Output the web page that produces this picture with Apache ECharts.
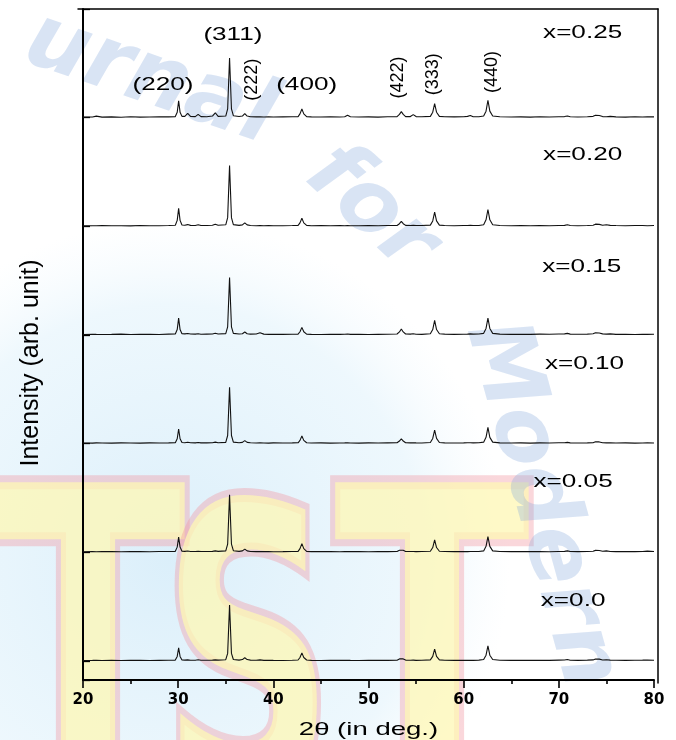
<!DOCTYPE html>
<html><head><meta charset="utf-8">
<script src="https://cdn.jsdelivr.net/npm/echarts@6/dist/echarts.min.js"></script>
<style>html,body{margin:0;padding:0;background:#fff}#c{width:676px;height:740px}</style>
</head><body><div id="c"></div>
<script>
// 2theta sampling points (deg) shared by all patterns
const twoTheta = [
 20.0,21.0,21.4,22.0,23.0,24.0,25.0,26.0,27.0,28.0,29.0,
 29.7,29.9,30.05,30.2,30.4,
 30.7,31.0,31.3,
 31.8,32.1,32.4,
 33.0,33.6,33.9,34.2,
 35.0,35.2,35.4,35.6,35.8,
 36.4,36.75,37.0,37.25,37.6,
 38.2,38.6,39.0,39.5,40.0,41.0,42.0,
 42.6,42.8,43.0,43.2,43.5,
 44.0,45.0,46.0,47.0,47.5,47.8,48.1,49.0,50.0,51.0,52.0,
 53.0,53.25,53.45,53.65,53.9,
 54.4,54.7,55.0,55.6,
 56.5,56.75,56.95,57.15,57.45,
 58.0,59.0,60.0,60.4,60.7,61.0,61.6,
 62.1,62.35,62.55,62.75,63.05,
 63.8,65.0,66.0,67.0,68.0,69.0,70.0,70.6,70.9,71.2,72.0,73.0,
 73.6,73.85,74.05,74.25,74.6,
 75.0,75.4,76.0,77.0,78.0,78.8,79.3,80.0
];
// intensities (arb. unit)
const int_x025 = [
 0.5,0.6,1.4,0.5,0.7,0.4,0.8,0.5,0.6,0.9,0.7,
 1.0,5,15.5,5,1.2,
 1.2,4,1.2,
 1.0,3,1.0,
 0.9,1.5,4.5,1.2,
 1.5,8,55,8,1.8,
 1.0,1.5,3.8,1.5,0.9,
 0.7,0.9,0.6,0.8,0.6,0.7,0.8,
 1.0,3.5,8,3.5,1.0,
 0.7,0.6,0.8,0.6,0.9,2.2,0.8,0.6,0.7,0.5,0.8,
 0.9,3,5.5,3,1.0,
 1.0,2.8,1.0,0.8,
 1.2,5,13,5,1.2,
 0.8,0.7,0.9,1.2,2.0,0.9,0.8,
 1.5,6,16,6,1.5,
 0.8,0.6,0.7,0.5,0.8,0.6,0.9,1.0,1.6,0.8,0.6,0.9,
 1.2,2.2,3.2,2.0,1.0,
 0.8,1.2,0.7,0.5,0.8,0.6,0.9,0.7
];
const int_x020 = [
 0.4,0.6,0.5,0.7,0.5,0.6,0.4,0.7,0.5,0.6,0.8,
 1.0,5.5,16.5,5.5,1.2,
 1.0,1.6,0.9,
 0.8,1.4,0.8,
 0.7,1.0,2.0,1.0,
 1.4,8,56,8,1.6,
 0.9,1.3,3.2,1.3,0.8,
 0.6,0.8,0.5,0.7,0.6,0.5,0.7,
 0.9,3.2,7.5,3.2,0.9,
 0.6,0.7,0.5,0.7,0.6,0.8,0.6,0.5,0.7,0.6,0.7,
 0.8,2.4,4.5,2.4,0.9,
 0.8,1.0,0.7,0.8,
 1.1,5,13,5,1.1,
 0.7,0.6,0.8,0.7,0.9,0.7,0.8,
 1.4,6,15.5,6,1.4,
 0.7,0.6,0.8,0.6,0.7,0.5,0.8,0.9,1.4,0.7,0.6,0.8,
 1.0,2.0,2.8,1.8,1.0,
 1.4,0.9,0.7,0.6,0.7,0.8,0.6,0.7
];
const int_x015 = [
 0.5,0.7,0.6,0.5,0.6,0.8,0.5,0.6,0.7,0.5,0.8,
 0.9,5,15.5,5,1.1,
 1.0,1.4,0.9,
 0.8,1.2,0.7,
 0.8,0.9,1.6,0.9,
 1.3,7.5,53,7.5,1.5,
 0.9,1.2,2.8,1.2,0.8,
 0.9,2.0,0.8,0.6,0.7,0.6,0.7,
 0.8,3,7,3,0.8,
 0.6,0.5,0.7,0.6,0.7,0.9,0.6,0.7,0.5,0.6,0.7,
 0.9,2.8,5.5,2.8,0.9,
 0.8,1.1,0.7,0.6,
 1.2,5,13.5,5,1.2,
 0.8,0.6,0.7,0.8,1.0,0.8,0.9,
 1.5,6,15.5,6,1.5,
 0.8,0.6,0.7,0.6,0.8,0.7,0.9,1.0,1.5,0.8,0.7,0.8,
 1.1,2.0,2.8,1.8,1.0,
 0.8,1.0,0.6,0.7,0.5,0.7,0.6,0.7
];
const int_x010 = [
 0.6,0.5,0.7,0.6,0.5,0.7,0.6,0.5,0.7,0.6,0.7,
 0.9,4.5,13.5,4.5,1.0,
 0.9,1.3,0.8,
 0.7,1.1,0.7,
 0.7,0.9,1.4,0.8,
 1.2,7.5,52,7.5,1.4,
 0.8,1.2,2.8,1.2,0.8,
 0.6,0.7,0.6,0.5,0.7,0.6,0.7,
 0.8,3,7,3,0.8,
 0.6,0.7,0.5,0.6,0.7,0.8,0.6,0.5,0.7,0.6,0.7,
 0.8,2.4,4.5,2.4,0.8,
 0.7,0.9,0.7,0.6,
 1.1,4.8,12.5,4.8,1.1,
 0.7,0.6,0.7,0.8,0.9,0.7,0.8,
 1.4,5.8,15,5.8,1.4,
 0.7,0.6,0.7,0.5,0.7,0.6,0.8,0.8,1.2,0.7,0.6,0.7,
 0.9,1.8,2.5,1.6,0.9,
 0.7,0.9,0.6,0.7,0.5,0.6,0.7,0.6
];
const int_x005 = [
 0.5,0.6,0.5,0.7,0.6,0.5,0.7,0.6,0.5,0.7,0.8,
 0.9,4.8,14,4.8,1.0,
 0.9,1.2,0.8,
 0.7,1.0,0.7,
 0.8,0.9,1.3,0.9,
 1.3,7.5,53,7.5,1.5,
 0.9,1.3,3,1.3,0.8,
 0.6,0.7,0.6,0.7,0.5,0.6,0.8,
 0.9,3.4,8,3.4,0.9,
 0.6,0.7,0.6,0.5,0.7,0.6,0.7,0.6,0.5,0.7,0.6,
 0.7,1.9,3.5,1.9,0.8,
 0.7,0.8,0.6,0.7,
 1.0,4.4,11.5,4.4,1.0,
 0.7,0.6,0.7,0.6,0.8,0.7,0.8,
 1.3,5.5,14.5,5.5,1.3,
 0.7,0.6,0.8,0.6,0.7,0.5,0.8,0.9,1.3,0.7,0.6,0.8,
 1.0,1.8,2.5,1.7,1.0,
 1.3,0.8,0.6,0.7,0.6,0.8,1.1,0.7
];
const int_x000 = [
 0.5,0.6,0.7,0.5,0.6,0.5,0.7,0.6,0.5,0.6,0.7,
 0.8,4.2,12,4.2,0.9,
 0.8,1.0,0.7,
 0.7,1.1,0.7,
 0.7,0.8,1.0,0.8,
 1.2,7,51.5,7,1.4,
 0.8,1.3,3,1.3,0.8,
 0.7,1.0,0.6,0.7,0.6,0.5,0.7,
 0.9,3.2,7.5,3.2,0.9,
 0.6,0.5,0.6,0.7,0.6,0.7,0.6,0.5,0.6,0.7,0.6,
 0.7,1.9,3.5,1.9,0.8,
 0.7,0.8,0.6,0.7,
 1.0,4.2,11,4.2,1.0,
 0.7,0.6,0.7,0.6,0.7,0.6,0.8,
 1.3,5.3,14,5.3,1.3,
 0.7,0.6,0.7,0.6,0.7,0.6,0.8,0.9,1.3,0.7,0.6,0.8,
 1.0,1.8,2.5,1.7,0.9,
 1.2,0.8,0.7,0.6,0.7,0.8,0.9,0.7
];
const compositions = ['x=0.0','x=0.05','x=0.10','x=0.15','x=0.20','x=0.25'];
const patterns = [int_x000,int_x005,int_x010,int_x015,int_x020,int_x025];
const offsets = [0,100,200,300,400,500];           // vertical stacking offsets (arb. unit)
const compLabelAt = [[71.5,55],[71.5,165],[72.7,273],[72.4,363],[72.5,466],[72.5,578]];
const hklLabels = ['(220)','(311)','(222)','(400)','(422)','(333)','(440)'];
const hklLabelAt = [[28.4,530],[35.75,576],[37.75,535],[43.5,530],[53.1,537],[56.8,540],[63.0,542]];
const hklVertical = [false,false,true,false,true,true,true];
const xTicks = {min:20,max:80,step:10};

const chart = echarts.init(document.getElementById('c'), null, {renderer:'canvas'});
const series = patterns.map((p,k)=>({
  type:'line', name:compositions[k], xAxisIndex:0, yAxisIndex:0,
  showSymbol:false, symbol:'none', animation:false, z:5,
  lineStyle:{color:'#111', width:1.1},
  data: twoTheta.map((t,i)=>[t, offsets[k]+p[i]])
}));
chart.setOption({
  animation:false,
  backgroundColor:'#ffffff',
  grid:[
    {left:83,right:22,top:9,bottom:60},
    {left:78,right:18,top:9,bottom:57}
  ],
  xAxis:[
    {type:'value',gridIndex:0,min:xTicks.min,max:xTicks.max,interval:xTicks.step,
     axisLine:{onZero:false,lineStyle:{color:'#000',width:2}},
     axisTick:{show:true,inside:false,length:8,lineStyle:{color:'#000',width:1.6}},
     minorTick:{show:true,splitNumber:2,length:4,lineStyle:{color:'#000',width:1.6}},
     splitLine:{show:false},
     axisLabel:{color:'#000',fontFamily:'DejaVu Sans',fontWeight:'bold',fontSize:15,margin:13}},
    {type:'value',gridIndex:1,position:'top',min:0,max:1,
     axisLine:{onZero:false,lineStyle:{color:'#000',width:1.5}},
     axisTick:{show:false},axisLabel:{show:false},splitLine:{show:false}}
  ],
  yAxis:[
    {type:'value',gridIndex:0,min:-17.5,max:600,minInterval:100,maxInterval:100,
     axisLine:{show:true,onZero:false,lineStyle:{color:'#000',width:2}},
     axisTick:{show:true,inside:true,length:7,lineStyle:{color:'#000',width:1.3}},
     axisLabel:{show:false},splitLine:{show:false}},
    {type:'value',gridIndex:1,position:'right',min:0,max:1,
     axisLine:{show:true,onZero:false,lineStyle:{color:'#000',width:1.5}},
     axisTick:{show:false},axisLabel:{show:false},splitLine:{show:false}}
  ],
  series: series
});

const px = (pt)=>chart.convertToPixel({xAxisIndex:0,yAxisIndex:0}, pt);
const g = [];
// faint watermark background
g.push({type:'circle',z:-20,silent:true,shape:{cx:170,cy:560,r:340},
  style:{fill:new echarts.graphic.RadialGradient(0.5,0.5,0.5,[
    {offset:0,color:'rgba(195,228,247,0.6)'},{offset:0.75,color:'rgba(212,237,250,0.4)'},{offset:1,color:'rgba(228,244,252,0)'}])}});
const wmLetters = [
  {t:'T',x:88,y:470,sx:0.72},{t:'S',x:248,y:488,sx:0.6},{t:'T',x:432,y:470,sx:0.72}
];
wmLetters.forEach(l=>g.push({type:'text',z:-15,silent:true,x:l.x,y:l.y,scaleX:l.sx,
  style:{text:l.t,x:0,y:0,align:'center',verticalAlign:'top',
    font:'bold 400px "DejaVu Sans"',fill:'rgba(253,247,180,0.75)',
    stroke:'rgba(242,150,160,0.38)',lineWidth:14}}));
const wmWords = [
  {t:'urnal',x:150,y:80,r:-0.33},{t:'for',x:370,y:210,r:-0.75},{t:'Modern',x:540,y:505,r:-1.3}
];
wmWords.forEach(w=>g.push({type:'text',z:-12,silent:true,x:w.x,y:w.y,rotation:w.r,
  style:{text:w.t,x:0,y:0,align:'center',verticalAlign:'middle',
    font:'italic bold 88px "DejaVu Sans"',fill:'rgba(130,165,220,0.3)'}}));
// composition labels
compositions.forEach((c,k)=>{
  const p = px(compLabelAt[k]);
  g.push({type:'text',z:10,x:p[0],y:p[1],scaleX:1.45,
    style:{text:c,x:0,y:0,align:'center',verticalAlign:'middle',
      font:'18px "Liberation Sans"',fill:'#000'}});
});
// Miller index labels
hklLabels.forEach((h,k)=>{
  const p = px(hklLabelAt[k]);
  const v = hklVertical[k];
  g.push({type:'text',z:10,x:p[0],y:p[1],rotation:v?Math.PI/2:0,scaleX:v?1:1.45,
    style:{text:h,x:0,y:0,align:'center',verticalAlign:'middle',
      font:'18px "Liberation Sans"',fill:'#000'}});
});
// axis titles
const xc = px([50,0]);
g.push({type:'text',z:10,x:xc[0],y:730,scaleX:1.45,
  style:{text:'2θ (in deg.)',x:0,y:0,align:'center',verticalAlign:'middle',
    font:'19px "Liberation Sans"',fill:'#000'}});
g.push({type:'text',z:10,x:31,y:363,rotation:Math.PI/2,
  style:{text:'Intensity (arb. unit)',x:0,y:0,align:'center',verticalAlign:'middle',
    font:'25px "Liberation Sans"',fill:'#000'}});
chart.setOption({graphic:g});
</script></body></html>
